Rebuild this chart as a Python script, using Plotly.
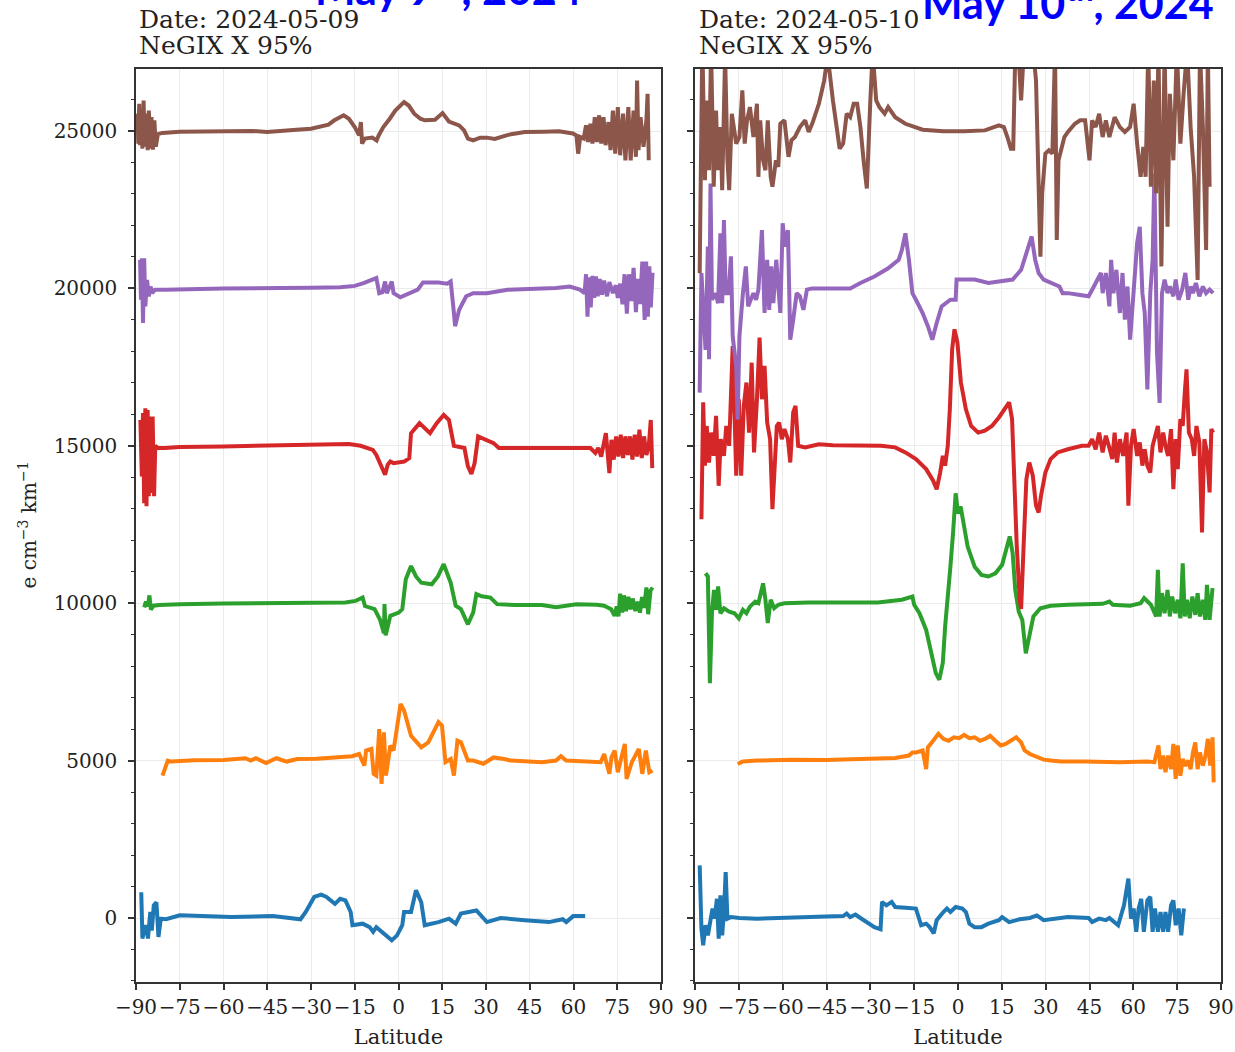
import plotly.graph_objects as go

# ---------------------------------------------------------------------------
# NeGIX X 95% profiles versus latitude, one offset track per satellite pass.
# Each list holds (latitude, deviation) pairs; the track offset is added below.
# ---------------------------------------------------------------------------

OFFSETS = [0, 5000, 10000, 15000, 20000, 25000]
COLORS = ["#1f77b4", "#ff7f0e", "#2ca02c", "#d62728", "#9467bd", "#8c564b"]

X_TICKS = [-90, -75, -60, -45, -30, -15, 0, 15, 30, 45, 60, 75, 90]
Y_TICKS = [0, 5000, 10000, 15000, 20000, 25000]

DATES = ["2024-05-09", "2024-05-10"]
HEADLINES = ["May 9<sup>th</sup>, 2024", "May 10<sup>th</sup>, 2024"]

# ---------------------------- 2024-05-09 -----------------------------------
may09_blue = [
    (-88.2, 820), (-87.8, -650), (-87.2, -400), (-86.6, -230), (-85.9, -650),
    (-85.1, 190), (-84.6, -400), (-83.9, 400), (-83.0, 500), (-82.3, -600),
    (-81.5, -20), (-79.7, -40), (-75.0, 85), (-69.1, 60), (-57.3, 30),
    (-43.1, 60), (-33.6, -40), (-31.8, 190), (-28.9, 670), (-26.5, 740),
    (-24.7, 670), (-21.8, 450), (-20.0, 610), (-18.2, 560), (-16.4, 190),
    (-15.8, -230), (-12.3, -180), (-9.9, -290), (-8.7, -440), (-7.6, -290),
    (-4.6, -550), (-2.3, -710), (-0.5, -550), (1.3, -230), (1.9, 190),
    (4.3, 190), (6.0, 880), (7.8, 500), (9.0, -230), (13.7, -130),
    (17.3, -20), (19.6, -180), (21.4, 140), (24.4, 190), (26.7, 240),
    (30.3, -130), (35.0, 0), (43.3, -70), (51.6, -130), (56.3, -40),
    (57.5, -130), (59.9, 60), (64.0, 60),
]

may09_orange = [
    (-80.9, -475), (-79.5, -100), (-79.1, 0), (-78.0, -30), (-70.0, 10),
    (-60.0, 20), (-52.5, 75), (-50.7, 0), (-48.9, 75), (-45.4, -75),
    (-41.9, 75), (-38.3, -30), (-34.8, 50), (-28.0, 60), (-21.8, 85),
    (-15.9, 140), (-13.5, 210), (-11.7, -160), (-11.1, 320), (-9.3, 370),
    (-8.5, -420), (-7.6, -475), (-6.6, 1000), (-5.8, -740), (-5.0, 900),
    (-4.3, -475), (-2.8, 475), (-1.7, 320), (0.7, 1800), (1.9, 1590),
    (4.3, 790), (7.8, 420), (10.2, 580), (13.7, 1220), (14.9, 1110),
    (16.1, -50), (17.9, 50), (19.0, -475), (20.2, 630), (21.4, 580),
    (23.8, 0), (25.6, 0), (29.1, -100), (32.6, 100), (36.2, 50),
    (38.6, 0), (49.2, -50), (54.0, 0), (55.7, 140), (57.5, 0),
    (69.3, -50), (70.5, 210), (72.3, -420), (73.0, 100), (74.1, 320),
    (75.2, -370), (76.3, 50), (77.6, 530), (78.2, -580), (80.0, -50),
    (82.4, 370), (83.6, -420), (84.8, 320), (86.0, -370), (87.1, -320),
]

may09_green = [
    (-87.2, -130), (-86.6, 50), (-85.9, -100), (-85.4, 250), (-84.9, -200),
    (-84.0, -80), (-82.0, -60), (-75.0, -30), (-60.0, -10), (-40.0, 0),
    (-25.0, 10), (-18.2, 20), (-14.7, 75), (-12.3, 180), (-11.5, -90),
    (-8.2, -190), (-6.4, -510), (-5.0, -950), (-4.8, -30), (-4.4, -1020),
    (-2.8, -400), (0.1, -300), (1.3, -190), (2.5, 760), (4.3, 1180),
    (6.0, 850), (7.8, 650), (11.4, 600), (13.5, 850), (15.5, 1240),
    (17.9, 650), (19.6, -80), (21.4, -190), (23.8, -670), (25.0, -420),
    (25.6, -300), (26.7, 290), (28.5, 220), (31.5, 180), (33.8, -30),
    (40.0, -60), (49.2, -60), (54.0, -130), (61.0, -30), (68.0, -50),
    (70.5, -80), (72.9, -190), (74.1, -400), (74.8, -100), (75.4, -420),
    (76.0, 300), (76.7, -300), (77.3, 250), (78.0, -250), (78.8, 200),
    (79.6, -200), (80.3, 150), (81.2, -250), (82.0, 50), (82.8, -300),
    (83.5, 200), (84.2, -150), (85.0, 500), (85.6, -350), (86.4, 400),
    (87.1, 500),
]

may09_red = [
    (-88.5, 820), (-88.0, -970), (-87.6, 1040), (-87.2, -1820), (-86.8, 1190),
    (-86.4, -1920), (-86.0, 1140), (-85.6, -1600), (-85.2, 930), (-84.8, -1500),
    (-84.3, 930), (-83.8, -1600), (-83.4, 0), (-82.5, -70), (-80.0, -70),
    (-75.0, -40), (-60.0, -20), (-45.0, 0), (-30.0, 20), (-20.0, 30),
    (-17.0, 60), (-13.0, 0), (-8.8, -130), (-7.6, -290), (-4.6, -920),
    (-3.7, -600), (-2.8, -500), (-1.7, -550), (1.9, -500), (3.7, -390),
    (4.3, 400), (7.2, 720), (9.0, 550), (10.8, 400), (13.1, 720),
    (15.5, 980), (17.3, 820), (19.0, 0), (22.6, -70), (23.8, -650),
    (25.0, -890), (26.1, -550), (27.3, 300), (29.7, 190), (32.6, 85),
    (34.4, -70), (40.0, -70), (50.0, -90), (60.0, -70), (65.8, -70),
    (67.5, -230), (68.5, -70), (69.5, -340), (71.1, 400), (72.3, -870),
    (73.0, 190), (73.8, -440), (74.6, 300), (75.4, -340), (76.2, 350),
    (77.0, -390), (77.8, 300), (78.6, -290), (79.4, 300), (80.2, -440),
    (81.0, 350), (81.8, -340), (82.6, 510), (83.4, -390), (84.2, 300),
    (85.0, -290), (85.8, -20), (86.5, 820), (87.0, -710),
]

may09_purple = [
    (-88.6, 900), (-88.3, -360), (-88.0, 960), (-87.6, -1100), (-87.2, 960),
    (-86.8, -570), (-86.2, 270), (-85.6, -250), (-85.0, 60), (-84.5, -150),
    (-83.5, -40), (-80.0, -40), (-60.0, 0), (-45.0, 0), (-30.0, 20),
    (-20.0, 40), (-15.0, 80), (-12.0, 170), (-7.6, 330), (-6.6, -150),
    (-5.5, -120), (-4.6, 220), (-4.0, -150), (-2.3, 220), (-1.7, -150),
    (0.6, -280), (4.3, -150), (6.6, -40), (8.4, 190), (13.7, 190),
    (16.7, 150), (17.9, 220), (19.0, -780), (19.4, -1200), (20.8, -680),
    (23.2, -250), (25.6, -150), (30.3, -150), (37.4, -40), (44.5, -20),
    (54.0, 10), (58.7, 60), (62.2, -40), (63.8, -150), (64.3, 450),
    (64.8, -900), (65.3, 350), (65.9, -600), (66.5, 400), (67.1, -300),
    (67.7, 380), (68.3, -250), (69.0, 300), (69.8, -200), (70.5, 250),
    (71.5, -250), (72.3, 200), (73.5, -150), (74.5, 100), (75.2, -300),
    (76.0, 150), (76.8, -500), (77.5, 450), (78.3, -800), (79.0, 450),
    (79.8, -400), (80.6, 650), (81.4, -750), (82.0, 300), (82.8, -500),
    (83.6, 850), (84.4, -1000), (84.9, 850), (85.5, -900), (86.0, 700),
    (86.5, -600), (87.1, 500),
]

may09_brown = [
    (-89.5, 550), (-89.2, -400), (-88.9, 865), (-88.6, -450), (-88.2, 650),
    (-87.8, -560), (-87.4, 970), (-87.0, -500), (-86.5, 550), (-86.0, -610),
    (-85.6, 650), (-85.1, -560), (-84.7, 440), (-84.2, -590), (-83.7, 340),
    (-83.2, -500), (-82.5, -100), (-81.0, -60), (-75.0, -20), (-60.0, -10),
    (-50.0, 0), (-45.0, -30), (-40.0, 20), (-35.0, 40), (-30.0, 75),
    (-27.0, 125), (-24.0, 200), (-22.0, 340), (-20.0, 440), (-18.8, 500),
    (-17.0, 390), (-15.0, 125), (-13.5, -140), (-12.9, 285), (-12.5, -400),
    (-11.5, -240), (-9.0, -210), (-7.5, -300), (-6.8, -140), (-5.2, 125),
    (-3.0, 390), (-1.1, 650), (1.9, 920), (3.5, 810), (5.4, 550),
    (7.5, 390), (9.0, 340), (12.5, 360), (15.1, 570), (17.3, 300),
    (20.8, 180), (22.5, 20), (23.8, -240), (25.6, -300), (28.0, -210),
    (30.3, -210), (33.0, -250), (35.0, -210), (37.0, -140), (38.6, -100),
    (43.3, -30), (50.0, -20), (55.0, -10), (59.8, -80), (61.0, -140),
    (61.6, -720), (62.3, -190), (63.5, -240), (64.3, 180), (65.0, -350),
    (65.8, 230), (66.5, -400), (67.3, 440), (68.0, -350), (68.8, 500),
    (69.5, -400), (70.3, 440), (71.0, -450), (72.0, 285), (72.7, -610),
    (73.5, 650), (74.3, -720), (75.2, 760), (76.0, -770), (77.0, 550),
    (77.8, -930), (78.8, 760), (79.6, -930), (80.6, 650), (81.4, -820),
    (81.8, 1600), (82.3, -610), (83.0, 440), (84.0, -500), (85.0, 340),
    (85.4, 1180), (85.8, -930),
]

# ---------------------------- 2024-05-10 -----------------------------------
may10_blue = [
    (-88.4, 1670), (-87.8, -340), (-87.2, -870), (-86.4, -230), (-85.6, -550),
    (-84.8, -20), (-84.0, 300), (-83.3, -20), (-82.5, 610), (-81.9, -660),
    (-81.3, 720), (-80.7, -550), (-80.1, 190), (-79.5, 1460), (-78.9, -20),
    (-77.7, 30), (-74.8, 0), (-68.8, -20), (-57.0, 30), (-45.2, 50),
    (-39.3, 60), (-38.1, 140), (-36.9, 30), (-35.1, 110), (-33.4, 0),
    (-31.0, -130), (-28.6, -290), (-26.5, -360), (-26.0, 510), (-24.5, 400),
    (-22.7, 510), (-21.5, 350), (-19.2, 350), (-16.8, 320), (-14.4, 300),
    (-13.5, -20), (-12.6, -230), (-10.9, -180), (-9.7, -290), (-8.3, -490),
    (-7.3, -70), (-5.0, 190), (-3.8, 300), (-2.6, 190), (-0.8, 350),
    (1.5, 300), (2.7, 190), (3.9, -180), (5.7, -290), (8.0, -290),
    (10.4, -180), (14.0, -70), (15.1, 30), (17.5, -130), (21.1, -40),
    (24.6, 0), (27.0, 80), (29.3, -70), (32.9, -40), (37.6, 30),
    (44.7, 0), (45.9, -130), (48.3, -20), (50.6, -70), (51.8, 0),
    (53.6, -130), (54.8, -230), (56.8, 400), (58.3, 1250), (59.2, -20),
    (60.1, 300), (61.0, -440), (61.8, 300), (62.7, 610), (63.6, -440),
    (64.8, 560), (65.8, 670), (66.6, -440), (67.4, 300), (68.4, -440),
    (69.3, 190), (70.2, -440), (71.0, 190), (71.9, -440), (72.9, 400),
    (73.7, 560), (74.5, -230), (75.5, 300), (76.4, -550), (77.3, 300),
]

may10_orange = [
    (-75.4, -110), (-73.6, -30), (-68.8, 0), (-57.0, 30), (-45.2, 20),
    (-33.4, 50), (-21.5, 80), (-16.8, 160), (-15.6, 260), (-14.4, 260),
    (-12.1, 320), (-10.9, -270), (-10.3, 420), (-8.5, 630), (-6.7, 850),
    (-5.0, 690), (-3.2, 630), (-1.4, 740), (0.4, 710), (2.1, 820),
    (3.9, 710), (5.7, 740), (7.5, 630), (9.2, 690), (11.0, 790),
    (12.8, 630), (14.6, 480), (16.3, 530), (18.1, 630), (19.9, 740),
    (21.6, 580), (22.8, 320), (24.6, 210), (27.0, 110), (29.3, 30),
    (31.7, 0), (35.3, -30), (43.5, -30), (55.4, -50), (64.8, -30),
    (67.2, -50), (68.6, 480), (69.3, -270), (70.2, 160), (71.0, -370),
    (71.9, 160), (72.9, -270), (73.7, 530), (74.5, -580), (75.2, 480),
    (76.1, -480), (76.9, 50), (77.8, -160), (78.8, 0), (79.6, -270),
    (80.4, 260), (81.2, 580), (82.0, -270), (82.8, 260), (83.8, -160),
    (84.7, 160), (85.5, 690), (86.3, -160), (87.1, 740), (87.5, -690),
]

may10_green = [
    (-86.4, 950), (-85.6, 850), (-84.9, -2540), (-84.2, -320), (-83.5, 420),
    (-82.8, -210), (-82.1, 530), (-81.3, -320), (-80.1, -160), (-78.3, -270),
    (-76.5, -320), (-75.0, -480), (-73.6, -210), (-72.4, -320), (-71.2, -110),
    (-69.4, 50), (-68.3, 0), (-67.4, 320), (-66.7, 630), (-65.9, 110),
    (-65.1, -630), (-64.1, 110), (-62.9, -160), (-61.5, -50), (-59.4, 0),
    (-51.1, 20), (-39.3, 20), (-27.4, 20), (-19.2, 110), (-15.6, 210),
    (-15.0, -50), (-13.2, -320), (-10.9, -850), (-9.1, -1590), (-7.6, -2220),
    (-6.4, -2430), (-5.2, -1900), (-4.4, -740), (-3.5, 420), (-2.6, 1160),
    (-1.7, 2220), (-0.8, 3490), (0.0, 2850), (0.9, 3070), (1.9, 2540),
    (3.3, 1800), (5.7, 1160), (8.0, 900), (10.4, 850), (12.8, 950),
    (15.1, 1220), (16.9, 1800), (17.7, 2120), (18.7, 1590), (19.6, 420),
    (20.8, -270), (22.0, -530), (23.2, -1590), (24.4, -1060), (25.8, -420),
    (28.2, -160), (31.7, -80), (37.6, -50), (43.5, -50), (49.5, -20),
    (51.8, 50), (53.0, -50), (58.9, -80), (62.5, 0), (63.7, 160),
    (66.0, -50), (67.8, -420), (68.4, 1060), (69.0, -420), (69.8, 320),
    (70.7, -320), (71.7, 420), (72.5, -420), (73.3, 210), (74.3, -320),
    (75.2, 110), (76.1, -480), (76.9, 1270), (77.6, -420), (78.4, 110),
    (79.3, -480), (80.2, 210), (81.2, -370), (82.0, 320), (82.8, -420),
    (83.8, 110), (84.6, -530), (85.2, 580), (86.1, -530), (87.1, 480),
]

may10_red = [
    (-87.8, -2330), (-87.2, 1380), (-86.6, -630), (-86.0, 630), (-85.2, -530),
    (-84.5, 420), (-83.6, -320), (-82.8, 950), (-81.9, -1270), (-81.2, 210),
    (-80.1, -320), (-79.3, 630), (-78.3, 0), (-77.7, 2010), (-77.1, 3170),
    (-75.9, -950), (-75.0, 1480), (-74.2, -950), (-73.3, 1270), (-72.4, 2010),
    (-71.5, 420), (-70.6, 2640), (-69.8, -210), (-68.8, 1480), (-67.9, 3440),
    (-67.1, 1480), (-66.2, 2540), (-65.3, 740), (-64.3, 210), (-63.5, -2010),
    (-62.7, -320), (-62.0, 630), (-61.2, 740), (-60.3, 210), (-59.4, 530),
    (-58.2, 210), (-57.4, -530), (-56.4, 1060), (-55.6, 1270), (-54.7, 0),
    (-52.3, -50), (-47.6, 50), (-42.8, 20), (-33.4, 20), (-26.3, 0),
    (-21.5, -50), (-18.0, -210), (-14.4, -420), (-10.9, -740), (-8.5, -1110),
    (-7.3, -1380), (-6.1, -850), (-5.2, -320), (-4.4, -630), (-3.5, 0),
    (-2.8, 1160), (-2.0, 3070), (-1.2, 3700), (-0.2, 3280), (1.0, 2010),
    (2.7, 1160), (4.5, 630), (6.9, 420), (9.2, 480), (11.6, 630),
    (14.0, 900), (15.7, 1160), (17.5, 1380), (18.5, 850), (19.3, -1270),
    (20.1, -3170), (21.1, -4870), (21.6, -5180), (22.5, -3070), (23.4, -1060),
    (24.4, -530), (25.6, -950), (26.7, -1900), (27.6, -2120), (28.4, -1590),
    (29.9, -850), (31.7, -420), (34.1, -210), (37.6, -110), (42.4, 0),
    (44.7, 0), (45.9, 210), (47.1, -110), (48.3, 420), (49.5, -210),
    (50.6, 320), (51.6, 0), (52.8, -420), (53.6, 420), (54.4, -530),
    (55.4, 210), (56.5, -320), (57.7, 420), (58.3, -1900), (59.2, 0),
    (60.1, 530), (61.3, -320), (62.2, 110), (63.1, -630), (63.9, -110),
    (64.8, -630), (65.8, -850), (66.6, 0), (67.4, 320), (68.4, 630),
    (69.3, -210), (70.2, 420), (71.0, 0), (71.9, -320), (72.9, 530),
    (73.7, -1380), (74.5, 210), (75.2, -740), (76.1, 850), (76.9, 630),
    (77.6, 1690), (78.2, 2430), (79.0, 420), (80.0, 210), (80.8, -320),
    (81.6, 630), (82.6, 110), (83.5, -2750), (84.3, 210), (85.2, -210),
    (86.1, -1480), (86.7, 530), (87.3, 420),
]

may10_purple = [
    (-88.4, -3310), (-87.8, 490), (-87.2, -570), (-86.4, -1950), (-85.6, 1330),
    (-85.2, -2250), (-84.7, 3330), (-84.2, -360), (-83.0, -150), (-82.1, -470),
    (-81.3, 1750), (-80.7, -470), (-80.1, 2170), (-79.5, -150), (-78.5, -150),
    (-77.7, 1020), (-77.1, -1520), (-75.9, -2470), (-75.4, -4160), (-74.8, -1520),
    (-73.6, -150), (-72.6, 700), (-71.8, -570), (-71.0, -360), (-70.0, -150),
    (-69.1, -360), (-68.3, -40), (-67.1, 1850), (-66.2, -780), (-65.3, 910),
    (-64.6, -680), (-63.9, 700), (-63.2, -470), (-62.2, 910), (-61.5, -150),
    (-60.8, -780), (-60.0, 2070), (-59.2, 1330), (-58.2, 1850), (-57.4, -1630),
    (-56.4, -1000), (-55.2, -150), (-54.1, -250), (-52.9, -680), (-51.7, -40),
    (-49.9, 0), (-42.8, 0), (-36.9, 0), (-33.4, 170), (-28.6, 380),
    (-23.9, 640), (-20.3, 910), (-19.2, 1220), (-18.0, 1750), (-16.8, 910),
    (-15.6, -150), (-14.4, -360), (-12.1, -780), (-10.3, -1200), (-8.8, -1630),
    (-7.3, -1100), (-5.6, -570), (-2.6, -360), (-0.8, -360), (-0.5, 280),
    (2.1, 280), (5.7, 280), (10.4, 170), (14.0, 220), (18.7, 280),
    (21.6, 590), (24.0, 1330), (25.2, 1650), (26.4, 910), (27.6, 490),
    (29.3, 280), (31.7, 170), (34.7, 60), (35.8, -150), (37.6, -150),
    (41.2, -200), (44.7, -250), (46.5, 60), (47.7, 280), (48.9, 490),
    (49.5, -150), (50.6, 490), (51.8, -570), (52.4, 910), (53.2, -150),
    (54.2, 590), (55.4, -780), (56.3, 490), (57.1, -990), (58.0, 60),
    (58.9, -1630), (60.1, -150), (61.3, 1440), (62.2, 1960), (63.1, -150),
    (63.9, -780), (64.8, -3210), (65.8, -150), (66.6, 910), (67.2, 3650),
    (68.1, -2050), (69.0, -3640), (69.8, -150), (70.7, 280), (71.7, -150),
    (72.5, 60), (73.7, -250), (74.5, 280), (75.5, -360), (76.7, -40),
    (77.8, 490), (78.8, -360), (79.6, 60), (80.4, -150), (81.4, 170),
    (82.6, -250), (83.8, 60), (84.9, -150), (86.1, -40), (87.3, -150),
]

may10_brown = [
    (-88.4, -4515), (-87.5, 2800), (-86.6, -1560), (-86.0, 970), (-85.2, -1245),
    (-84.5, 2600), (-83.6, -1770), (-82.8, 650), (-82.1, -1245), (-81.3, 125),
    (-80.7, -1880), (-79.7, 2400), (-78.9, -930), (-78.3, -1880), (-77.4, 550),
    (-75.9, -400), (-74.8, -190), (-73.8, 1290), (-73.0, -400), (-72.2, 340),
    (-71.2, 760), (-70.0, -190), (-68.8, 865), (-68.3, -1455), (-67.7, 340),
    (-66.7, -930), (-65.9, -1245), (-65.1, 340), (-64.1, -1455), (-63.5, -1770),
    (-62.3, -930), (-61.5, -1140), (-60.8, 230), (-59.4, 340), (-58.0, -820),
    (-57.0, -295), (-55.8, -190), (-54.1, 125), (-52.3, 340), (-51.1, -30),
    (-49.9, 230), (-47.6, 865), (-45.8, 1600), (-44.6, 2400), (-42.8, 970),
    (-41.6, 125), (-40.5, -560), (-39.3, -400), (-38.1, 550), (-36.9, 440),
    (-35.7, 865), (-34.5, 865), (-33.4, 125), (-32.2, -1035), (-31.2, -1825),
    (-30.0, 970), (-29.2, 2500), (-28.0, 970), (-26.9, 760), (-25.1, 550),
    (-23.9, 760), (-21.5, 440), (-18.0, 230), (-12.1, 40), (-5.0, -10),
    (2.1, -10), (9.2, 20), (14.0, 180), (15.7, 125), (16.9, -190),
    (18.1, -560), (18.9, -560), (19.6, 2500), (20.8, 2300), (21.6, 970),
    (22.5, 2500), (25.8, 2500), (26.7, 1600), (27.6, -1980), (28.2, -3990),
    (28.8, -1980), (29.9, -720), (31.1, -610), (32.3, -720), (33.2, 2600),
    (33.8, -3460), (34.4, -930), (35.2, -610), (36.4, -190), (37.6, -30),
    (38.8, 125), (40.0, 230), (41.8, 340), (43.5, 340), (45.0, -930),
    (45.9, 340), (47.1, 125), (48.3, 550), (49.5, -190), (50.6, 340),
    (51.8, -190), (53.6, 440), (55.4, 125), (57.1, -30), (58.9, 125),
    (60.1, 865), (61.3, -400), (62.5, -1455), (63.4, -505), (64.2, -1455),
    (65.1, 2600), (66.0, -1770), (67.0, 1600), (67.8, -1980), (68.6, 2600),
    (69.6, -4300), (70.7, 2600), (71.7, -3040), (72.5, 1180), (73.7, -930),
    (74.9, 2600), (76.1, -400), (77.2, 1180), (78.4, 2600), (79.6, 125),
    (80.8, -1455), (82.0, -4730), (82.8, 2600), (83.8, 125), (84.9, -3780),
    (85.5, 2600), (86.1, -1770),
]

PANELS = [
    [may09_blue, may09_orange, may09_green, may09_red, may09_purple, may09_brown],
    [may10_blue, may10_orange, may10_green, may10_red, may10_purple, may10_brown],
]

# ---------------------------------------------------------------------------
W, H = 1235, 1052
X_DOMAINS = [[136 / W, 661 / W], [695 / W, 1221 / W]]
Y_DOMAIN = [(H - 982) / H, (H - 69) / H]
Y_RANGE = [-2033, 26970]

SERIF = "DejaVu Serif"
INK = "#222222"
FRAME = "#333333"
GRID = "#ebebeb"

fig = go.Figure()

for p, tracks in enumerate(PANELS):
    xa = "x" if p == 0 else "x2"
    ya = "y" if p == 0 else "y2"
    for k, pts in enumerate(tracks):
        lat = [a for a, _ in pts]
        val = [OFFSETS[k] + b for _, b in pts]
        fig.add_trace(go.Scatter(
            x=lat, y=val, mode="lines", xaxis=xa, yaxis=ya,
            line=dict(color=COLORS[k], width=4),
            showlegend=False, hoverinfo="skip",
        ))


def minus(v):
    return str(v).replace("-", "\u2212")


x_text_left = [minus(v) for v in X_TICKS]
x_text_right = ["90"] + [minus(v) for v in X_TICKS[1:]]
y_text = [str(v) for v in Y_TICKS]

common_x = dict(
    range=[-90, 90], tickmode="array", tickvals=X_TICKS, tickangle=0,
    ticks="outside", ticklen=6, tickwidth=1.5, tickcolor=FRAME,
    showline=True, mirror=True, linecolor=FRAME, linewidth=1.5,
    showgrid=True, gridcolor=GRID, gridwidth=1, zeroline=False,
    automargin=False,
    tickfont=dict(family=SERIF, size=20, color=INK),
    title=dict(text="Latitude", font=dict(family=SERIF, size=21, color=INK),
               standoff=12),
)
common_y = dict(
    range=Y_RANGE, tickmode="array", tickvals=Y_TICKS, ticktext=y_text,
    ticks="outside", ticklen=6, tickwidth=1.5, tickcolor=FRAME,
    minor=dict(dtick=1000, tick0=0, ticks="outside", ticklen=3.5,
               tickwidth=1.2, tickcolor=FRAME, showgrid=False),
    showline=True, mirror=True, linecolor=FRAME, linewidth=1.5,
    showgrid=True, gridcolor=GRID, gridwidth=1, zeroline=False,
    automargin=False,
    tickfont=dict(family=SERIF, size=20, color=INK),
    domain=Y_DOMAIN,
)

fig.update_layout(
    width=W, height=H,
    margin=dict(l=0, r=0, t=0, b=0),
    paper_bgcolor="white", plot_bgcolor="white",
    xaxis=dict(domain=X_DOMAINS[0], ticktext=x_text_left, anchor="y", **common_x),
    xaxis2=dict(domain=X_DOMAINS[1], ticktext=x_text_right, anchor="y2", **common_x),
    yaxis=dict(anchor="x", ticklabelstandoff=7, **common_y),
    yaxis2=dict(anchor="x2", matches="y", showticklabels=False, **common_y),
)

annotations = []
left_edges = [137, 697]
headline_x = [313, 920]
headline_y = [16, 30]
for p in range(2):
    annotations.append(dict(
        text="Date: " + DATES[p], xref="paper", yref="paper",
        x=left_edges[p] / W, y=1 - 19 / H, xanchor="left", yanchor="middle",
        showarrow=False, font=dict(family=SERIF, size=25, color=INK),
    ))
    annotations.append(dict(
        text="NeGIX X 95%", xref="paper", yref="paper",
        x=left_edges[p] / W, y=1 - 46 / H, xanchor="left", yanchor="middle",
        showarrow=False, font=dict(family=SERIF, size=25, color=INK),
    ))
    annotations.append(dict(
        text="<b>" + HEADLINES[p] + "</b>", xref="paper", yref="paper",
        x=headline_x[p] / W, y=1 - headline_y[p] / H,
        xanchor="left", yanchor="bottom",
        showarrow=False, font=dict(family="Lato", size=43, color="#0000ff"),
    ))

annotations.append(dict(
    text="e cm<sup>\u22123</sup> km<sup>\u22121</sup>", xref="paper", yref="paper",
    x=27 / W, y=(Y_DOMAIN[0] + Y_DOMAIN[1]) / 2, xanchor="center", yanchor="middle",
    textangle=-90, showarrow=False, font=dict(family=SERIF, size=20, color=INK),
))

fig.update_layout(annotations=annotations)

fig.write_html("out.html")
